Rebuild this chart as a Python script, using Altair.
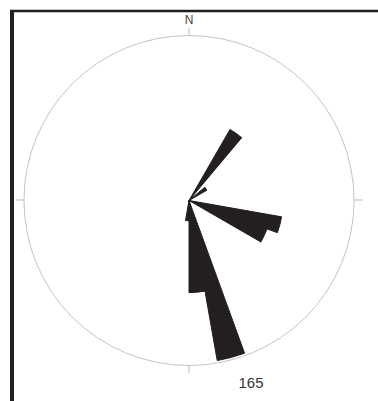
import math
import altair as alt
import pandas as pd

# Rose diagram bins (degrees clockwise from north) and petal lengths (% of outer circle)
bin_start = [30, 50, 100, 110, 160, 170, 180]
bin_end = [40, 60, 110, 120, 170, 180, 190]
freq = [49.7, 12.5, 57.0, 50.3, 98.5, 55.8, 12.3]

label_n = "N"
label_max = "165"

df = pd.DataFrame({"start": bin_start, "end": bin_end, "freq": freq})
one = alt.Data(values=[{"a": 1}])

CX, CY, R = 189, 200, 165
ink = "#231f20"
grey = "#bcbcbc"

theta_scale = alt.Scale(domain=[0, 360], range=[0, 2 * math.pi])
r_scale = alt.Scale(type="linear", domain=[0, 100], range=[0, R], zero=True)

circle = alt.Chart(one).mark_arc(
    fillOpacity=0, stroke=grey, strokeWidth=0.9
).encode(
    theta=alt.value(0), theta2=alt.value(2 * math.pi), radius=alt.value(R)
)

petals = alt.Chart(df).mark_arc(
    color=ink, stroke=ink, strokeWidth=1, strokeJoin="miter"
).encode(
    theta=alt.Theta("start:Q", scale=theta_scale),
    theta2="end:Q",
    radius=alt.Radius("freq:Q", scale=r_scale),
)

tick_style = dict(color=grey, strokeWidth=1)
tick_n = alt.Chart(one).mark_rule(**tick_style).encode(
    x=alt.value(CX), y=alt.value(CY - R - 7), y2=alt.value(CY - R))
tick_s = alt.Chart(one).mark_rule(**tick_style).encode(
    x=alt.value(CX), y=alt.value(CY + R), y2=alt.value(CY + R + 8))
tick_w = alt.Chart(one).mark_rule(**tick_style).encode(
    y=alt.value(CY), x=alt.value(CX - R - 8), x2=alt.value(CX - R))
tick_e = alt.Chart(one).mark_rule(**tick_style).encode(
    y=alt.value(CY), x=alt.value(CX + R), x2=alt.value(CX + R + 9))

border_top = alt.Chart(one).mark_rule(color=ink, strokeWidth=2.5).encode(
    x=alt.value(10), x2=alt.value(378), y=alt.value(11))
border_left = alt.Chart(one).mark_rule(color=ink, strokeWidth=4).encode(
    x=alt.value(12), y=alt.value(10), y2=alt.value(401))

text_n = alt.Chart(one).mark_text(
    font="Liberation Sans", fontSize=12, color="#444444", baseline="middle", align="center"
).encode(x=alt.value(CX), y=alt.value(20), text=alt.value(label_n))

text_max = alt.Chart(one).mark_text(
    font="Liberation Sans", fontSize=15, color="#333333", baseline="middle", align="center"
).encode(x=alt.value(251), y=alt.value(383), text=alt.value(label_max))

chart = alt.layer(
    circle, petals, tick_n, tick_s, tick_w, tick_e, border_top, border_left, text_n, text_max
).properties(
    width=378, height=401, autosize="none", padding=0
).configure_view(strokeWidth=0)

chart.save("out.html", embed_options={"renderer": "svg", "actions": False})
